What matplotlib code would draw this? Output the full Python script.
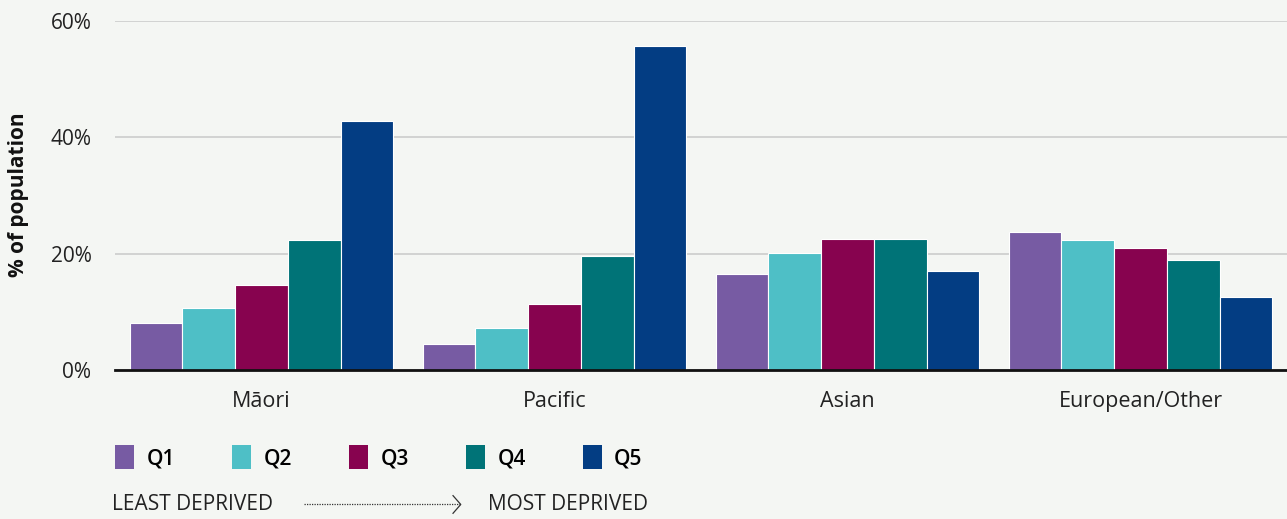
import numpy as np
import matplotlib.pyplot as plt
from matplotlib.patches import Patch

# share of each ethnic group's population by deprivation quintile
groups = ['Māori', 'Pacific', 'Asian', 'European/Other']
quintiles = ['Q1', 'Q2', 'Q3', 'Q4', 'Q5']
q1 = [8.1, 4.5, 16.5, 23.7]
q2 = [10.7, 7.2, 20.1, 22.3]
q3 = [14.6, 11.3, 22.5, 21.0]
q4 = [22.3, 19.6, 22.5, 18.9]
q5 = [42.8, 55.7, 17.0, 12.5]
yticks = [0, 20, 40, 60]

colors = ['#775ba3', '#4ebfc6', '#87034f', '#007377', '#033d83']
bg = '#f4f6f3'
plt.rcParams['font.family'] = ['Open Sans', 'DejaVu Sans']

fig = plt.figure(figsize=(12.87, 5.19), dpi=100, facecolor=bg)
ax = fig.add_axes([0.0894, 0.287, 0.9106, 0.6725], facecolor=bg)

x = np.arange(len(groups))
w = 0.18
series = [q1, q2, q3, q4, q5]
for i, vals in enumerate(series):
    ax.bar(x + (i - 2) * w, vals, width=w, color=colors[i],
           edgecolor='white', linewidth=0.8, zorder=3)

ax.set_xlim(-0.5, 3.5)
ax.set_ylim(0, 60)
ax.set_yticks(yticks)
ax.set_yticklabels([f'{t}%' for t in yticks], fontsize=15, color='#222222')
ax.set_xticks(x)
ax.set_xticklabels(groups, fontsize=15.5, color='#222222')
ax.tick_params(axis='y', length=0, pad=17)
ax.tick_params(axis='x', length=0, pad=15)
ax.grid(axis='y', color='#cccccc', linewidth=1.2, zorder=0)
for s in ['top', 'right', 'left']:
    ax.spines[s].set_visible(False)
ax.spines['bottom'].set_color('#111111')
ax.spines['bottom'].set_linewidth(2)
ax.spines['bottom'].set_zorder(4)

fig.text(0.014, 0.625, '% of population', rotation=90, ha='center', va='center',
         fontsize=15, fontweight='bold', color='#111111')

handles = [Patch(facecolor=c, edgecolor='none') for c in colors]
fig.legend(handles, quintiles, loc='lower left', bbox_to_anchor=(0.075, 0.06),
           ncol=5, frameon=False, handlelength=0.9, handleheight=1.4,
           handletextpad=0.6, columnspacing=2.75, prop={'size': 15, 'weight': 'semibold'})

fig.text(0.087, 0.028, 'LEAST DEPRIVED', fontsize=15, color='#222222', va='center')
fig.text(0.379, 0.028, 'MOST DEPRIVED', fontsize=15, color='#222222', va='center')
fig.add_artist(plt.Line2D([0.236, 0.358], [0.028, 0.028], transform=fig.transFigure,
                          color='#333333', linewidth=0.9, linestyle=(0, (1, 1))))
fig.add_artist(plt.Line2D([0.352, 0.358, 0.352], [0.045, 0.028, 0.011],
                          transform=fig.transFigure, color='#333333', linewidth=0.9))

fig.savefig('out.png', dpi=100, facecolor=bg)
